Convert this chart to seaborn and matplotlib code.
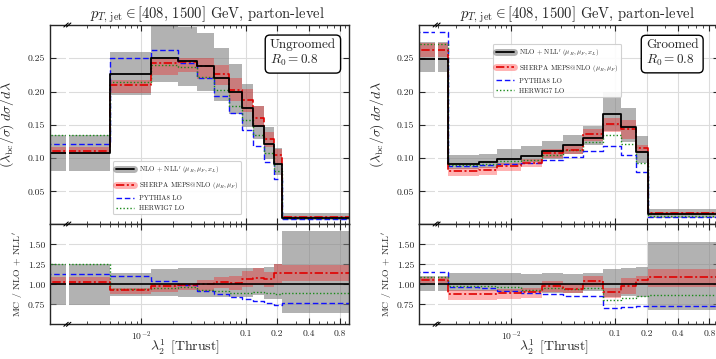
import numpy as np
import pandas as pd
import matplotlib
matplotlib.use("Agg")
import matplotlib.pyplot as plt
import seaborn as sns
from matplotlib.lines import Line2D
from matplotlib.ticker import FixedLocator, FixedFormatter, LogLocator, NullFormatter, NullLocator

# ---------------- data: ungroomed thrust ----------------
ug_edges = [0.001, 0.005, 0.0124, 0.0223, 0.034, 0.0494, 0.0697, 0.0916, 0.118, 0.150, 0.187, 0.223, 1.0]
ug_nll = [0.107, 0.227, 0.250, 0.246, 0.2384, 0.2208, 0.1997, 0.1755, 0.148, 0.121, 0.0913, 0.0105]
ug_nll_lo = [0.080, 0.195, 0.2145, 0.208, 0.2006, 0.1855, 0.167, 0.1468, 0.129, 0.0989, 0.0747, 0.0067]
ug_nll_hi = [0.134, 0.260, 0.2985, 0.2965, 0.288, 0.266, 0.241, 0.2107, 0.1785, 0.1468, 0.115, 0.0175]
ug_sherpa = [0.110, 0.210, 0.2435, 0.244, 0.238, 0.227, 0.203, 0.187, 0.160, 0.129, 0.104, 0.012]
ug_sherpa_lo = [0.1055, 0.1985, 0.2248, 0.230, 0.219, 0.2097, 0.186, 0.170, 0.147, 0.117, 0.093, 0.0109]
ug_sherpa_hi = [0.1165, 0.217, 0.2526, 0.251, 0.250, 0.240, 0.220, 0.204, 0.178, 0.139, 0.114, 0.0130]
ug_pythia = [0.121, 0.2505, 0.2617, 0.243, 0.2198, 0.1937, 0.168, 0.1425, 0.1175, 0.0935, 0.0680, 0.0080]
ug_herwig = [0.134, 0.214, 0.240, 0.2365, 0.222, 0.2022, 0.178, 0.157, 0.134, 0.108, 0.0800, 0.00935]

# ---------------- data: groomed thrust ----------------
g_edges = [0.001, 0.0025, 0.005, 0.0074, 0.0125, 0.0198, 0.0319, 0.0493, 0.0767, 0.114, 0.158, 0.207, 1.0]
g_nll = [0.249, 0.0915, 0.0935, 0.099, 0.1035, 0.110, 0.119, 0.130, 0.167, 0.146, 0.109, 0.0155]
g_nll_lo = [0.229, 0.084, 0.0855, 0.089, 0.0935, 0.0985, 0.106, 0.119, 0.140, 0.124, 0.092, 0.0105]
g_nll_hi = [0.275, 0.104, 0.1065, 0.113, 0.1175, 0.125, 0.135, 0.148, 0.199, 0.176, 0.133, 0.0238]
g_sherpa = [0.262, 0.080, 0.082, 0.088, 0.093, 0.1075, 0.112, 0.136, 0.151, 0.143, 0.115, 0.0169]
g_sherpa_lo = [0.2525, 0.073, 0.075, 0.081, 0.086, 0.100, 0.106, 0.126, 0.139, 0.128, 0.108, 0.0149]
g_sherpa_hi = [0.2725, 0.085, 0.087, 0.093, 0.099, 0.114, 0.119, 0.143, 0.160, 0.158, 0.120, 0.0185]
g_pythia = [0.289, 0.088, 0.089, 0.091, 0.0925, 0.0965, 0.1014, 0.111, 0.118, 0.104, 0.079, 0.0113]
g_herwig = [0.271, 0.0895, 0.091, 0.0955, 0.0965, 0.105, 0.112, 0.124, 0.135, 0.121, 0.0925, 0.0134]

# ---------------- labels ----------------
title_txt = r"$p_{T,\,\mathrm{jet}} \in [408,\, 1500]$ GeV, parton-level"
ylabel_main = r"$(\lambda_{\mathrm{bc}}/\sigma)\; d\sigma/d\lambda$"
ylabel_ratio = r"MC / NLO + NLL$'$"
xlabel_txt = r"$\lambda_2^1$ [Thrust]"
xtick_vals = [0.01, 0.1, 0.2, 0.4, 0.8]
xtick_labels = [r"$10^{-2}$", "0.1", "0.2", "0.4", "0.8"]
main_yticks = [0.05, 0.10, 0.15, 0.20, 0.25]
ratio_yticks = [0.75, 1.00, 1.25, 1.50]
leg_labels = [r"NLO + NLL$'$ $(\mu_R,\mu_F,x_L)$",
              r"SHERPA MEPS@NLO $(\mu_R,\mu_F)$",
              "PYTHIA8 LO", "HERWIG7 LO"]
panel_tags = ["Ungroomed\n$R_0 = 0.8$", "Groomed\n$R_0 = 0.8$"]

# ---------------- style ----------------
sns.set_style("ticks")
plt.rcParams.update({
    "font.family": "serif",
    "font.serif": ["cmr10"],
    "mathtext.fontset": "cm",
    "axes.formatter.use_mathtext": True,
    "axes.linewidth": 1.0,
})

GRAY = "#808080"
RED = "#e00000"
BLUE = "#1010ff"
GREEN = "#1a8a1a"
XLIM = (0.00133, 0.98)
BREAK_X = 0.00195

W, H = 716, 359
fig = plt.figure(figsize=(W / 100, H / 100), dpi=100)


def frac_box(x0, y_top, w, h):
    return [x0 / W, 1 - (y_top + h) / H, w / W, h / H]


def step_line(ax, edges, vals, **kw):
    df = pd.DataFrame({"x": edges, "y": list(vals) + [vals[-1]]})
    sns.lineplot(data=df, x="x", y="y", ax=ax, drawstyle="steps-post",
                 estimator=None, sort=False, legend=False, **kw)


def band(ax, edges, lo, hi, color, alpha):
    e = np.asarray(edges)
    lo = np.asarray(lo)
    hi = np.asarray(hi)
    ax.bar(e[:-1], hi - lo, width=np.diff(e), bottom=lo, align="edge",
           color=color, alpha=alpha, lw=0, zorder=1)


def break_marks(ax, ys):
    lx = (np.log10(BREAK_X) - np.log10(XLIM[0])) / (np.log10(XLIM[1]) - np.log10(XLIM[0]))
    bbox = ax.get_window_extent()
    dx = 2.2 / bbox.width
    dy = 2.0 / bbox.height
    sep = 2.6 / bbox.width
    for y in ys:
        for off in (-sep / 2, sep / 2):
            ax.plot([lx + off - dx, lx + off + dx], [y - dy, y + dy], color="black",
                    lw=0.8, transform=ax.transAxes, clip_on=False, zorder=6)


def style_axes(ax, yticks, ylim):
    ax.set_xscale("log")
    ax.set_xlim(*XLIM)
    ax.set_ylim(*ylim)
    ax.xaxis.set_major_locator(FixedLocator(xtick_vals))
    ax.xaxis.set_minor_locator(LogLocator(base=10, subs=np.arange(2, 10)))
    ax.xaxis.set_minor_formatter(NullFormatter())
    ax.yaxis.set_major_locator(FixedLocator(yticks))
    ax.yaxis.set_major_formatter(FixedFormatter([f"{v:.2f}" for v in yticks]))
    ax.yaxis.set_minor_locator(NullLocator())
    ax.tick_params(which="both", direction="in", top=True, right=True, labelsize=7)
    ax.tick_params(which="major", length=4, width=0.8)
    ax.tick_params(which="minor", length=2, width=0.6)
    ax.grid(True, which="major", color="#dcdcdc", lw=0.8, zorder=0)
    ax.set_axisbelow(True)
    ax.axvspan(BREAK_X / 10 ** 0.015, BREAK_X * 10 ** 0.015, color="white", lw=0, zorder=2.4)
    ax.set_xlabel("")
    ax.set_ylabel("")


panels = [
    (50, ug_edges, ug_nll, ug_nll_lo, ug_nll_hi, ug_sherpa, ug_sherpa_lo, ug_sherpa_hi,
     ug_pythia, ug_herwig, panel_tags[0], ("lower left", (0.21, 0.05))),
    (419.3, g_edges, g_nll, g_nll_lo, g_nll_hi, g_sherpa, g_sherpa_lo, g_sherpa_hi,
     g_pythia, g_herwig, panel_tags[1], ("upper left", (0.246, 0.905))),
]

for (x0, edges, nll, nlo, nhi, sh, slo, shi, py, hw, tag, legpos) in panels:
    axm = fig.add_axes(frac_box(x0, 25, 299.3, 199))
    axr = fig.add_axes(frac_box(x0, 224, 299.3, 100.3), sharex=axm)

    nll_a = np.asarray(nll)
    # main panel
    band(axm, edges, nlo, nhi, GRAY, 0.6)
    band(axm, edges, slo, shi, "red", 0.3)
    step_line(axm, edges, py, color=BLUE, lw=1.0, linestyle=(0, (4, 2)))
    step_line(axm, edges, hw, color=GREEN, lw=1.0, linestyle=(0, (1, 1.5)))
    step_line(axm, edges, sh, color=RED, lw=1.2, linestyle=(0, (5, 1.5, 1.2, 1.5)))
    step_line(axm, edges, nll, color="black", lw=1.3)

    # ratio panel
    band(axr, edges, np.asarray(nlo) / nll_a, np.asarray(nhi) / nll_a, GRAY, 0.6)
    band(axr, edges, np.asarray(slo) / nll_a, np.asarray(shi) / nll_a, "red", 0.3)
    step_line(axr, edges, np.asarray(py) / nll_a, color=BLUE, lw=1.0, linestyle=(0, (4, 2)))
    step_line(axr, edges, np.asarray(hw) / nll_a, color=GREEN, lw=1.0, linestyle=(0, (1, 1.5)))
    step_line(axr, edges, np.asarray(sh) / nll_a, color=RED, lw=1.2, linestyle=(0, (5, 1.5, 1.2, 1.5)))
    step_line(axr, edges, nll_a / nll_a, color="black", lw=1.2)

    style_axes(axm, main_yticks, (0.001, 0.30))
    style_axes(axr, ratio_yticks, (0.5, 1.755))
    axm.tick_params(labelbottom=False)
    axr.xaxis.set_major_formatter(FixedFormatter(xtick_labels))

    axm.set_title(title_txt, fontsize=10.5, x=0.528, pad=4)
    axm.set_ylabel(ylabel_main, fontsize=10)
    axm.yaxis.set_label_coords(-0.112, 0.5)
    axr.set_ylabel(ylabel_ratio, fontsize=7)
    axr.yaxis.set_label_coords(-0.083, 0.5)
    axr.set_xlabel(xlabel_txt, fontsize=10)
    axr.xaxis.set_label_coords(0.45, -0.135)

    # panel tag
    axm.text(0.845, 0.857, tag, transform=axm.transAxes, ha="center", va="center",
             fontsize=9.5, multialignment="left", zorder=7,
             bbox=dict(boxstyle="round,pad=0.35", fc="white", ec="black", lw=1.0))

    # legend
    handles = [
        (Line2D([], [], color=GRAY, alpha=0.6, lw=5), Line2D([], [], color="black", lw=1.3)),
        (Line2D([], [], color="red", alpha=0.3, lw=5),
         Line2D([], [], color=RED, lw=1.2, linestyle=(0, (5, 1.5, 1.2, 1.5)))),
        Line2D([], [], color=BLUE, lw=1.0, linestyle=(0, (4, 2))),
        Line2D([], [], color=GREEN, lw=1.0, linestyle=(0, (1, 1.5))),
    ]
    leg = axm.legend(handles, leg_labels, loc=legpos[0], bbox_to_anchor=legpos[1],
                     fontsize=5.0, handlelength=2.6, labelspacing=0.6,
                     borderaxespad=0, frameon=True, fancybox=True, framealpha=0.9)
    leg.get_frame().set_edgecolor("#cccccc")
    leg.get_frame().set_linewidth(0.8)
    leg.set_zorder(7)

    fig.canvas.draw()
    break_marks(axm, [1.0])
    break_marks(axr, [0.0, 1.0])

fig.savefig("out.png", dpi=100)
